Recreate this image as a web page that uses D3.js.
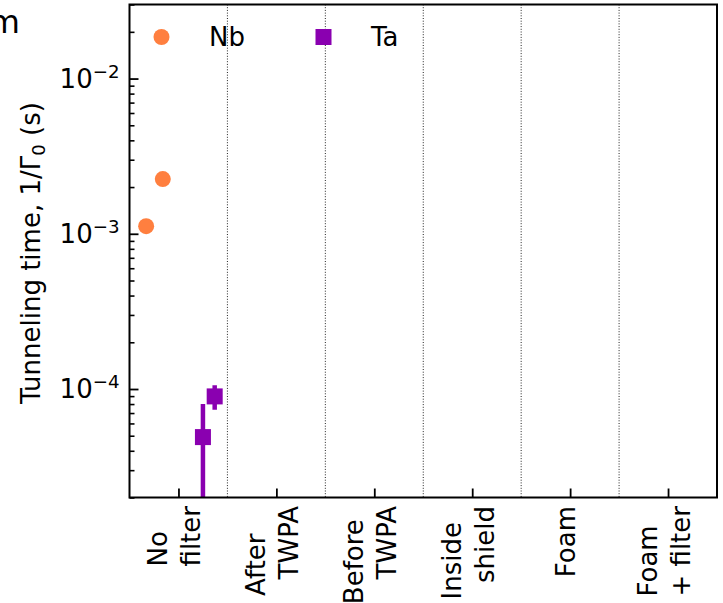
<!DOCTYPE html>
<html>
<head>
<meta charset="utf-8">
<script src="https://cdn.jsdelivr.net/npm/d3@7/dist/d3.min.js"></script>
<style>
  html, body { margin: 0; padding: 0; background: #fff; }
  svg { display: block; font-family: "DejaVu Sans", sans-serif; }
</style>
</head>
<body>
<svg id="chart" width="723" height="603"></svg>
<script>
// Filter configurations (one label per tick, one entry per text line)
const categoryLabels = [
  ["No", "filter"],
  ["After", "  TWPA"],
  ["Before", "   TWPA"],
  ["Inside", "  shield"],
  ["Foam"],
  ["Foam", "+ filter"]
];

// Nb devices: horizontal position (category units) and tunneling time (s)
const nbX = [-0.33, -0.16];
const nbTime = [1.12e-3, 2.25e-3];

// Ta devices: horizontal position, tunneling time (s) and symmetric uncertainty (s)
const taX = [0.25, 0.37];
const taTime = [4.9e-5, 8.96e-5];
const taErr = [3.1e-5, 1.6e-5];

// Y axis decades and range
const yMajorTicks = [1e-4, 1e-3, 1e-2];
const yTickExponents = ["−4", "−3", "−2"];
const yDomain = [2e-5, 0.03];

const legendItems = [
  { name: "Nb", color: "#ff7f3f", shape: "circle" },
  { name: "Ta", color: "#8a00b0", shape: "square" }
];

const W = 723, H = 603;
const plotLeft = 129.5, plotRight = 717, plotTop = 4.5, plotBottom = 497.5;
const FONT = 26, SMALL = 18.2;
const NB_COLOR = legendItems[0].color, TA_COLOR = legendItems[1].color;

const svg = d3.select("#chart");
svg.append("rect").attr("width", W).attr("height", H).attr("fill", "#fff");

const x = d3.scaleLinear().domain([-0.5, 5.5]).range([plotLeft, plotRight]);
const y = d3.scaleLog().domain(yDomain).range([plotBottom, plotTop]);

// Clip region for marks
svg.append("defs").append("clipPath").attr("id", "plotClip")
  .append("rect").attr("x", plotLeft).attr("y", plotTop)
  .attr("width", plotRight - plotLeft).attr("height", plotBottom - plotTop);

// Dotted separators between configurations
svg.append("g")
  .selectAll("line")
  .data(d3.range(categoryLabels.length - 1))
  .join("line")
  .attr("x1", d => x(d + 0.5)).attr("x2", d => x(d + 0.5))
  .attr("y1", plotTop).attr("y2", plotBottom)
  .attr("stroke", "#222").attr("stroke-width", 1)
  .attr("stroke-dasharray", "1,1.7");

// Minor y ticks (inward)
const minorTicks = y.ticks().filter(v => !yMajorTicks.some(m => Math.abs(m - v) / m < 1e-6));
const gMinor = svg.append("g").attr("transform", `translate(${plotLeft},0)`)
  .call(d3.axisLeft(y).tickValues(minorTicks).tickSize(-5).tickFormat(""));
gMinor.select(".domain").remove();
gMinor.selectAll("line").attr("stroke", "#000").attr("stroke-width", 1.6);

// Major y ticks (inward) with 10^n labels
const gMajor = svg.append("g").attr("transform", `translate(${plotLeft},0)`)
  .call(d3.axisLeft(y).tickValues(yMajorTicks).tickSize(-9).tickPadding(10).tickFormat(""));
gMajor.select(".domain").remove();
gMajor.selectAll("line").attr("stroke", "#000").attr("stroke-width", 1.8);
gMajor.selectAll(".tick text").each(function(d, i) {
  const t = d3.select(this)
    .attr("font-family", "DejaVu Sans").attr("font-size", FONT)
    .attr("fill", "#000").attr("dy", "0.33em");
  t.append("tspan").text("10");
  t.append("tspan").attr("dy", -10).attr("font-size", SMALL).text(yTickExponents[i]);
});

// Bottom x ticks (inward)
const gX = svg.append("g").attr("transform", `translate(0,${plotBottom})`)
  .call(d3.axisBottom(x).tickValues(d3.range(categoryLabels.length)).tickSize(-9).tickFormat(""));
gX.select(".domain").remove();
gX.selectAll("line").attr("stroke", "#000").attr("stroke-width", 1.8);

// Rotated, multi-line category labels, left-aligned within each block
const labelTop = 506, lineGap = 33;
categoryLabels.forEach((lines, i) => {
  const g = svg.append("g")
    .attr("transform", `translate(${x(i)},${labelTop}) rotate(-90)`);
  const n = lines.length;
  const texts = lines.map((s, j) =>
    g.append("text")
      .attr("font-size", FONT).attr("fill", "#000")
      .attr("y", 5 + (j - (n - 1) / 2) * lineGap)
      .style("white-space", "pre")
      .attr("xml:space", "preserve")
      .text(s));
  const L = d3.max(texts, t => t.node().getComputedTextLength());
  texts.forEach(t => t.attr("x", -L));
});

// Y axis title
const yTitle = svg.append("text")
  .attr("transform", `translate(40,${(plotTop + plotBottom) / 2 + 2}) rotate(-90)`)
  .attr("text-anchor", "middle").attr("font-size", FONT).attr("fill", "#000");
yTitle.append("tspan").text("Tunneling time, 1/Γ");
yTitle.append("tspan").attr("dy", 5).attr("font-size", SMALL).text("0");
yTitle.append("tspan").attr("dy", -5).text(" (s)");

// Panel letter (partially outside the page)
svg.append("text").attr("x", 20).attr("y", 33)
  .attr("text-anchor", "end").attr("font-size", 32).attr("fill", "#000").text("m");

const plot = svg.append("g").attr("clip-path", "url(#plotClip)");

// Ta error bars
plot.selectAll("line.taerr")
  .data(taTime)
  .join("line").attr("class", "taerr")
  .attr("x1", (d, i) => x(taX[i])).attr("x2", (d, i) => x(taX[i]))
  .attr("y1", (d, i) => y(Math.max(d - taErr[i], 1e-9)))
  .attr("y2", (d, i) => y(d + taErr[i]))
  .attr("stroke", TA_COLOR).attr("stroke-width", 4.5);

// Ta markers (squares)
const sq = 16;
plot.selectAll("rect.ta")
  .data(taTime)
  .join("rect").attr("class", "ta")
  .attr("x", (d, i) => x(taX[i]) - sq / 2)
  .attr("y", d => y(d) - sq / 2)
  .attr("width", sq).attr("height", sq)
  .attr("fill", TA_COLOR);

// Nb markers (circles)
plot.selectAll("circle.nb")
  .data(nbTime)
  .join("circle").attr("class", "nb")
  .attr("cx", (d, i) => x(nbX[i]))
  .attr("cy", d => y(d))
  .attr("r", 8)
  .attr("fill", NB_COLOR);

// Legend
const legendX = [161.5, 323.5], legendTextX = [209, 371], legendY = 37;
legendItems.forEach((item, i) => {
  if (item.shape === "circle") {
    svg.append("circle").attr("cx", legendX[i]).attr("cy", legendY).attr("r", 8).attr("fill", item.color);
  } else {
    svg.append("rect").attr("x", legendX[i] - sq / 2).attr("y", legendY - sq / 2)
      .attr("width", sq).attr("height", sq).attr("fill", item.color);
  }
  svg.append("text").attr("x", legendTextX[i]).attr("y", legendY + 8.5)
    .attr("font-size", FONT).attr("fill", "#000").text(item.name);
});

// Axes frame
svg.append("rect")
  .attr("x", plotLeft).attr("y", plotTop)
  .attr("width", plotRight - plotLeft).attr("height", plotBottom - plotTop)
  .attr("fill", "none").attr("stroke", "#000").attr("stroke-width", 2);
</script>
</body>
</html>
